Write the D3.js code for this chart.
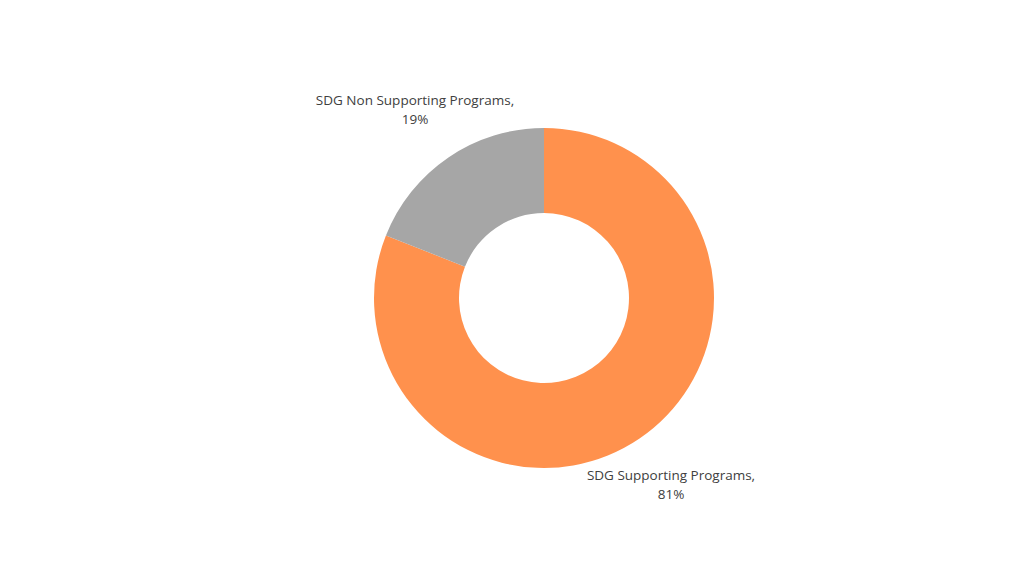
<!DOCTYPE html>
<html>
<head>
<meta charset="utf-8">
<script src="https://cdn.jsdelivr.net/npm/d3@7"></script>
<style>
	body { margin: 0; background: #ffffff; }
	svg text { font-family: "Open Sans", sans-serif; }
</style>
</head>
<body>
<div id="chart"></div>
<script>
// chart data
const categories = ["SDG Supporting Programs", "SDG Non Supporting Programs"];
const shares = [81, 19];
const sliceColors = ["#FF914D", "#A6A6A6"];

// label anchors, in chart px
const labelPos = [[671, 480], [415, 105]];

function drawDonut(){

	let svg = d3.select("#chart")
		.append("svg")
		.attr("width", 1024)
		.attr("height", 576);

	let pie = d3.pie()
		.sort(null)
		.value(d => d);

	let arc = d3.arc()
		.innerRadius(85)
		.outerRadius(170);

	let g = svg.append("g")
		.attr("transform", "translate(544, 298)");

	g.selectAll("path")
		.data(pie(shares))
		.enter()
		.append("path")
		.attr("d", arc)
		.attr("fill", (d, i) => sliceColors[i]);

	let labels = svg.selectAll("text.lbl")
		.data(categories)
		.enter()
		.append("text")
		.attr("class", "lbl")
		.attr("text-anchor", "middle")
		.attr("font-size", 13.5)
		.attr("fill", "#404040");

	labels.append("tspan")
		.attr("x", (d, i) => labelPos[i][0])
		.attr("y", (d, i) => labelPos[i][1])
		.text(d => d + ",");

	labels.append("tspan")
		.attr("x", (d, i) => labelPos[i][0])
		.attr("y", (d, i) => labelPos[i][1] + 18.5)
		.text((d, i) => shares[i] + "%");
}

drawDonut();
</script>
</body>
</html>
